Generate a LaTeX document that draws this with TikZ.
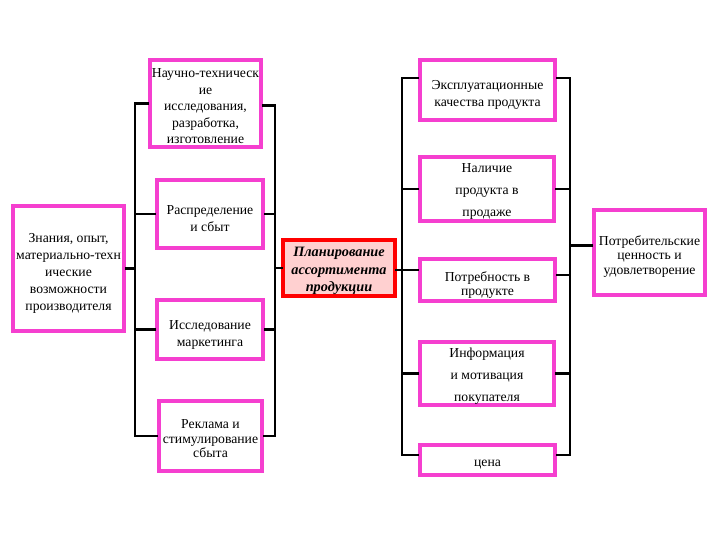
\documentclass[tikz,border=0pt]{standalone}
\usepackage{fontspec}
\setmainfont{Liberation Serif}
\usepackage{tikz}
\usetikzlibrary{positioning, calc}
\definecolor{colMagenta}{HTML}{F53FCF}
\definecolor{colRed}    {HTML}{FF0000}
\definecolor{colPink}   {HTML}{FFD0D0}
\tikzset{
  box/.style={
    draw=colMagenta, line width=4pt, fill=white,
    align=center, inner sep=1pt,
    font=\fontsize{13.7}{17}\selectfont
  },
  tightbox/.style={box, font=\fontsize{13.7}{14.5}\selectfont},
  loosebox/.style={box, font=\fontsize{13.7}{22}\selectfont},
  mainbox/.style={
    draw=colRed, line width=3.5pt, fill=colPink,
    align=center, inner sep=1pt,
    font=\fontsize{14.3}{17.5}\selectfont\bfseries\itshape
  },
  % box size, then text height (pushes the lines down a little)
  boxsize/.style n args={3}{minimum width=#1pt, minimum height=#2pt,
    text height=#3pt},
  link/.style={line width=2.6pt, draw=black, line cap=rect}
}

\begin{document}
\begin{tikzpicture}[x=1pt, y=-1pt]
  \useasboundingbox (0,0) rectangle (720,540);

  %% -- bus lines -------------------------------------------------
  \coordinate (busA) at (135,0);
  \coordinate (busB) at (275,0);
  \coordinate (busC) at (402,0);
  \coordinate (busD) at (570,0);

  %% -- left: producer -------------------------------------------
  \node[box, boxsize={111}{125}{86}] (know) at (68.5,268.5)
    {Знания, опыт,\\материально-техн\\ические\\возможности\\производителя};

  %% -- column 2 -------------------------------------------------
  \node[box, boxsize={111}{87}{81}, font=\fontsize{13.7}{16.5}\selectfont] (sci) at (205.5,103.5)
    {Научно-техническ\\ие\\исследования,\\разработка,\\изготовление};
  \node[box, boxsize={106}{68}{35}] (dist) at (210,214)
    {Распределение\\и сбыт};
  \node[box, boxsize={106}{59}{36}] (mkt) at (210,329.5)
    {Исследование\\маркетинга};
  \node[tightbox, boxsize={103}{70}{44}] (adv) at (210.5,436)
    {Реклама и\\стимулирование\\сбыта};

  %% -- centre ----------------------------------------------------
  \node[mainbox, boxsize={112}{56}{51}] (plan) at (339,268)
    {Планирование\\ассортимента\\продукции};

  %% -- column 4 -------------------------------------------------
  \node[box, boxsize={135}{60}{35}] (expl) at (487.5,90)
    {Эксплуатационные\\качества продукта};
  \node[loosebox, boxsize={134}{64}{57}] (avail) at (487,189)
    {Наличие\\продукта в\\продаже};
  \node[box, boxsize={135}{42}{33}, font=\fontsize{13.7}{13.5}\selectfont] (need) at (487.5,280)
    {Потребность в\\продукте};
  \node[loosebox, boxsize={134}{61}{58}] (info) at (487,373.5)
    {Информация\\и мотивация\\покупателя};
  \node[box, boxsize={135}{30}{15}] (price) at (487.5,460)
    {цена};

  %% -- right: consumer -------------------------------------------
  \node[tightbox, boxsize={111}{85}{46}] (value) at (649.5,252.5)
    {Потребительские\\ценность и\\удовлетворение};

  %% -- connectors ------------------------------------------------
  \draw[link] (know.east) -- (know.east -| busA);
  \draw[link] (sci.west -| busA) -- (adv.west -| busA);
  \foreach \n in {sci, dist, mkt, adv}
    \draw[link] (\n.west -| busA) -- (\n.west);

  \draw[link] ([yshift=-2pt]sci.east) -- ([yshift=-2pt]sci.east -| busB)
              -- (adv.east -| busB);
  \foreach \n in {dist, mkt, adv}
    \draw[link] (\n.east) -- (\n.east -| busB);
  \draw[link] (busB |- plan.west) -- (plan.west);

  \draw[link] ([yshift=-2pt]plan.east) -- ([yshift=-2pt]plan.east -| busC);
  \draw[link] ([yshift=12pt]expl.west -| busC) -- ([yshift=5pt]price.west -| busC);
  \draw[link] ([yshift=12pt]expl.west -| busC) -- ([yshift=12pt]expl.west);
  \foreach \n in {avail, info}
    \draw[link] (\n.west -| busC) -- (\n.west);
  \draw[link] ([yshift=10pt]need.west -| busC) -- ([yshift=10pt]need.west);
  \draw[link] ([yshift=5pt]price.west -| busC) -- ([yshift=5pt]price.west);

  \draw[link] ([yshift=12pt]expl.east) -- ([yshift=12pt]expl.east -| busD)
              -- ([yshift=5pt]price.east -| busD) -- ([yshift=5pt]price.east);
  \foreach \n in {avail, info}
    \draw[link] (\n.east) -- (\n.east -| busD);
  \draw[link] ([yshift=5pt]need.east) -- ([yshift=5pt]need.east -| busD);
  \draw[link] ([yshift=7pt]value.west -| busD) -- ([yshift=7pt]value.west);
\end{tikzpicture}
\end{document}
